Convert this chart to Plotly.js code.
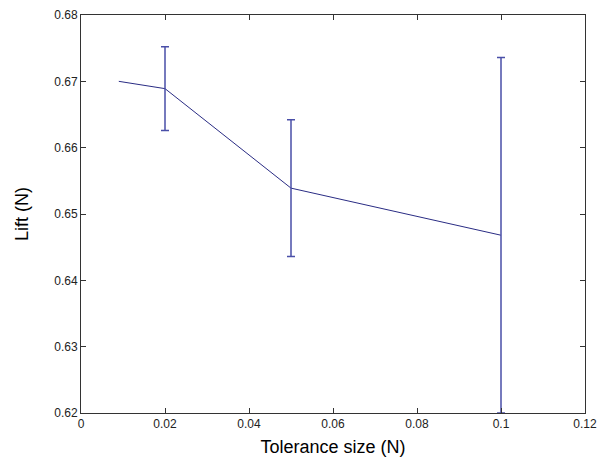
<!DOCTYPE html>
<html>
<head>
<meta charset="utf-8">
<script src="https://cdn.plot.ly/plotly-3.0.1.min.js"></script>
<style>html,body{margin:0;padding:0;background:#fff;}#chart{width:610px;height:465px;}</style>
</head>
<body>
<div id="chart"></div>
<script>
const toleranceSize = [0.009, 0.02, 0.05, 0.1];
const lift = [0.6700, 0.6689, 0.6539, 0.6468];
const liftError = [null, 0.0063, 0.0103, 0.0268];
const xTickValues = [0, 0.02, 0.04, 0.06, 0.08, 0.1, 0.12];
const yTickValues = [0.62, 0.63, 0.64, 0.65, 0.66, 0.67, 0.68];

// indices of points that carry an error bar
const withErr = liftError.map((e, i) => (e === null ? -1 : i)).filter(i => i >= 0);

const lineTrace = {
  x: toleranceSize,
  y: lift,
  type: 'scatter',
  mode: 'lines',
  line: {color: '#2a2c84', width: 1},
  hoverinfo: 'x+y'
};

const errTrace = {
  x: withErr.map(i => toleranceSize[i]),
  y: withErr.map(i => lift[i]),
  type: 'scatter',
  mode: 'markers',
  marker: {size: 1, color: 'rgba(0,0,0,0)'},
  cliponaxis: false,
  error_y: {
    type: 'data',
    array: withErr.map(i => liftError[i]),
    symmetric: true,
    visible: true,
    color: '#4a4fa8',
    thickness: 1.5,
    width: 4
  },
  hoverinfo: 'skip'
};

const axisCommon = {
  showgrid: false,
  zeroline: false,
  showline: true,
  linecolor: '#333',
  linewidth: 1,
  mirror: 'ticks',
  ticks: 'inside',
  ticklen: 5,
  tickwidth: 1,
  tickcolor: '#333',
  tickfont: {family: 'Liberation Sans, Arial, sans-serif', size: 12, color: '#222'}
};

const layout = {
  width: 610,
  height: 465,
  margin: {l: 81, r: 25, t: 15, b: 52},
  paper_bgcolor: '#ffffff',
  plot_bgcolor: '#ffffff',
  showlegend: false,
  xaxis: Object.assign({}, axisCommon, {
    range: [0, 0.12],
    tickvals: xTickValues,
    ticktext: xTickValues.map(String),
    title: {text: 'Tolerance size (N)', font: {family: 'Liberation Sans, Arial, sans-serif', size: 18, color: '#000'}, standoff: 9}
  }),
  yaxis: Object.assign({}, axisCommon, {
    range: [0.62, 0.68],
    tickvals: yTickValues,
    ticktext: yTickValues.map(v => v.toFixed(2)),
    title: {text: 'Lift (N)', font: {family: 'Liberation Sans, Arial, sans-serif', size: 18, color: '#000'}, standoff: 20}
  })
};

Plotly.newPlot('chart', [lineTrace, errTrace], layout, {displayModeBar: false, staticPlot: true});
</script>
</body>
</html>
